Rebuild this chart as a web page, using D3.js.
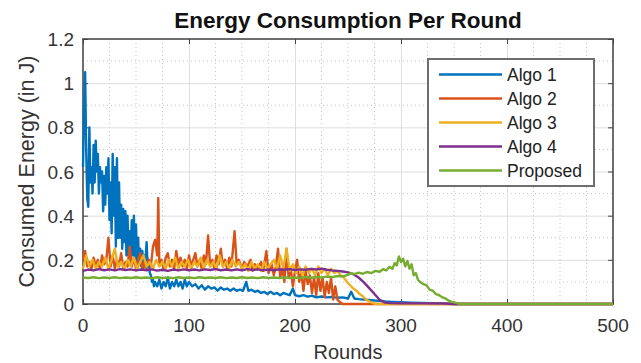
<!DOCTYPE html>
<html>
<head>
<meta charset="utf-8">
<script src="https://cdn.jsdelivr.net/npm/d3@7"></script>
<style>
  body { margin: 0; background: #fff; }
  text { font-family: "Liberation Sans", Arial, sans-serif; }
</style>
</head>
<body>
<div class="chart"></div>
<script>
// values: [round, energy in J]
var algo1 = [[0,0.62],[1,0.9],[2,1.05],[3,0.7],[4,0.48],[5,0.44],[6,0.8],[7,0.55],[8,0.62],[9,0.5],[10,0.72],[11,0.55],[12,0.74],[13,0.6],[14,0.68],[15,0.5],[16,0.62],[17,0.55],[18,0.6],[19,0.42],[20,0.58],[21,0.45],[22,0.62],[23,0.5],[24,0.66],[25,0.38],[26,0.55],[27,0.32],[28,0.68],[29,0.4],[30,0.62],[31,0.26],[32,0.66],[33,0.3],[34,0.55],[35,0.3],[36,0.45],[37,0.25],[38,0.43],[39,0.28],[40,0.42],[41,0.22],[42,0.4],[43,0.22],[44,0.33],[45,0.2],[46,0.38],[47,0.22],[48,0.4],[49,0.2],[50,0.36],[51,0.19],[52,0.3],[53,0.18],[54,0.25],[55,0.17],[56,0.24],[57,0.16],[58,0.22],[59,0.2],[60,0.28],[61,0.17],[62,0.2],[63,0.14],[64,0.13],[65,0.1],[66,0.11],[67,0.08],[68,0.1],[70,0.08],[72,0.11],[74,0.07],[76,0.1],[78,0.08],[80,0.12],[82,0.07],[84,0.1],[86,0.08],[88,0.11],[90,0.08],[92,0.1],[94,0.07],[96,0.11],[98,0.08],[100,0.1],[103,0.08],[106,0.09],[109,0.07],[112,0.085],[115,0.065],[118,0.08],[121,0.07],[124,0.075],[127,0.06],[130,0.075],[133,0.065],[136,0.07],[139,0.06],[142,0.07],[145,0.06],[148,0.065],[151,0.06],[154,0.1],[156,0.06],[159,0.065],[162,0.055],[165,0.06],[168,0.05],[171,0.055],[174,0.045],[177,0.055],[180,0.045],[183,0.05],[186,0.04],[189,0.05],[192,0.045],[195,0.04],[198,0.07],[200,0.04],[204,0.035],[208,0.04],[212,0.033],[216,0.038],[220,0.03],[225,0.034],[230,0.03],[235,0.032],[240,0.028],[245,0.03],[250,0.025],[253,0.055],[256,0.025],[260,0.022],[265,0.02],[270,0.018],[275,0.016],[280,0.015],[285,0.012],[290,0.01],[300,0.008],[310,0.006],[320,0.005],[330,0.004],[340,0.002],[350,0],[500,0]];

var algo2 = [[0,0.2],[2,0.24],[4,0.17],[6,0.19],[8,0.16],[10,0.21],[12,0.17],[14,0.2],[16,0.16],[18,0.22],[20,0.18],[22,0.2],[24,0.3],[26,0.17],[28,0.22],[30,0.16],[32,0.2],[34,0.17],[36,0.23],[38,0.16],[40,0.19],[42,0.17],[44,0.26],[46,0.17],[48,0.21],[50,0.16],[52,0.2],[54,0.23],[56,0.16],[58,0.19],[60,0.16],[62,0.2],[64,0.17],[66,0.26],[68,0.29],[70,0.22],[71,0.48],[72,0.18],[74,0.2],[76,0.16],[78,0.21],[80,0.23],[82,0.17],[84,0.2],[86,0.16],[88,0.24],[90,0.18],[92,0.21],[94,0.17],[96,0.2],[98,0.16],[100,0.22],[102,0.17],[104,0.2],[106,0.23],[108,0.17],[110,0.2],[112,0.16],[114,0.22],[116,0.18],[118,0.31],[120,0.17],[122,0.2],[124,0.16],[126,0.22],[128,0.18],[130,0.25],[132,0.17],[134,0.2],[136,0.16],[138,0.21],[140,0.17],[143,0.33],[145,0.18],[147,0.2],[150,0.16],[152,0.19],[155,0.17],[158,0.2],[160,0.15],[162,0.18],[165,0.16],[168,0.19],[170,0.15],[173,0.24],[175,0.14],[178,0.18],[180,0.13],[182,0.17],[184,0.25],[186,0.12],[188,0.16],[190,0.1],[192,0.25],[194,0.12],[196,0.16],[198,0.08],[200,0.15],[202,0.2],[204,0.1],[206,0.14],[208,0.06],[210,0.15],[212,0.09],[214,0.13],[216,0.05],[218,0.12],[220,0.04],[222,0.14],[224,0.06],[226,0.12],[228,0.03],[230,0.1],[232,0.05],[234,0.12],[236,0.02],[238,0.08],[240,0.02],[242,0.01],[245,0],[500,0]];

var algo3 = [[0,0.16],[3,0.22],[6,0.17],[9,0.2],[12,0.16],[15,0.19],[18,0.17],[21,0.21],[24,0.16],[27,0.2],[30,0.25],[33,0.17],[36,0.19],[39,0.16],[42,0.2],[45,0.17],[48,0.21],[51,0.16],[54,0.19],[57,0.22],[60,0.17],[63,0.19],[66,0.16],[69,0.2],[72,0.17],[75,0.19],[78,0.16],[81,0.2],[84,0.17],[87,0.21],[90,0.16],[93,0.19],[96,0.17],[99,0.2],[102,0.16],[105,0.19],[108,0.17],[111,0.21],[114,0.16],[117,0.2],[120,0.17],[123,0.19],[126,0.16],[129,0.22],[132,0.17],[135,0.19],[138,0.16],[141,0.2],[144,0.17],[147,0.19],[150,0.16],[153,0.18],[156,0.15],[159,0.19],[162,0.16],[165,0.18],[168,0.15],[171,0.19],[174,0.16],[177,0.18],[180,0.2],[183,0.16],[186,0.22],[189,0.16],[192,0.25],[195,0.15],[198,0.18],[201,0.14],[204,0.17],[207,0.13],[210,0.17],[213,0.14],[216,0.16],[219,0.13],[222,0.17],[225,0.14],[228,0.16],[231,0.13],[234,0.16],[237,0.14],[240,0.15],[243,0.13],[246,0.12],[249,0.1],[252,0.085],[255,0.07],[258,0.06],[261,0.045],[264,0.035],[267,0.02],[270,0.012],[273,0.005],[276,0],[500,0]];

var algo4 = [[0,0.15],[5,0.156],[10,0.152],[15,0.158],[20,0.153],[25,0.157],[30,0.152],[35,0.158],[40,0.154],[45,0.157],[50,0.152],[55,0.156],[60,0.153],[65,0.157],[70,0.151],[75,0.155],[80,0.15],[85,0.156],[90,0.152],[95,0.157],[100,0.153],[105,0.156],[110,0.152],[115,0.157],[120,0.154],[125,0.158],[130,0.153],[135,0.156],[140,0.152],[145,0.157],[150,0.153],[155,0.158],[160,0.154],[165,0.157],[170,0.152],[175,0.156],[180,0.153],[185,0.157],[190,0.155],[195,0.158],[200,0.154],[205,0.157],[210,0.155],[215,0.159],[220,0.156],[225,0.16],[230,0.155],[235,0.152],[240,0.15],[245,0.147],[250,0.143],[255,0.135],[260,0.12],[265,0.098],[270,0.072],[275,0.045],[280,0.018],[285,0.006],[290,0.004],[300,0.003],[320,0.003],[340,0.002],[350,0],[500,0]];

var proposed = [[0,0.12],[5,0.118],[10,0.121],[15,0.117],[20,0.12],[25,0.118],[30,0.121],[35,0.117],[40,0.12],[45,0.118],[50,0.121],[55,0.118],[60,0.12],[65,0.117],[70,0.121],[75,0.118],[80,0.12],[85,0.117],[90,0.121],[95,0.118],[100,0.12],[105,0.117],[110,0.121],[115,0.118],[120,0.12],[125,0.118],[130,0.121],[135,0.117],[140,0.12],[145,0.118],[150,0.121],[155,0.118],[160,0.12],[165,0.117],[170,0.121],[175,0.118],[180,0.12],[185,0.118],[190,0.121],[195,0.118],[200,0.12],[205,0.118],[210,0.122],[215,0.119],[220,0.122],[225,0.12],[230,0.124],[235,0.122],[240,0.127],[245,0.125],[250,0.132],[253,0.14],[256,0.135],[260,0.142],[264,0.137],[268,0.145],[272,0.14],[276,0.15],[280,0.146],[283,0.158],[286,0.152],[289,0.168],[292,0.16],[294,0.185],[296,0.175],[298,0.215],[300,0.19],[302,0.205],[304,0.17],[306,0.195],[308,0.16],[310,0.18],[312,0.13],[314,0.14],[316,0.11],[318,0.1],[321,0.09],[324,0.085],[327,0.065],[330,0.06],[333,0.045],[336,0.04],[339,0.03],[342,0.025],[345,0.015],[348,0.01],[352,0.005],[356,0],[500,0]];

var seriesNames = ["Algo 1", "Algo 2", "Algo 3", "Algo 4", "Proposed"];
var seriesData = [algo1, algo2, algo3, algo4, proposed];
var seriesColors = ["#0072BD", "#D95319", "#EDB120", "#7E2F8E", "#77AC30"];

var xTicks = [0, 100, 200, 300, 400, 500];
var yTicks = [0, 0.2, 0.4, 0.6, 0.8, 1, 1.2];

var margin = {top: 39, right: 28, bottom: 59, left: 83},
width = 641 - margin.left - margin.right,
height = 363 - margin.top - margin.bottom;

var xScale = d3.scaleLinear()
    .domain([0, 500])
    .range([0, width]);

var yScale = d3.scaleLinear()
    .domain([0, 1.2])
    .range([height, 0]);

var svg = d3.select(".chart").append("svg")
    .attr("width", 641)
    .attr("height", 363)
    .style("display", "block");

var g = svg.append("g")
    .attr("transform", "translate(" + margin.left + "," + margin.top + ")");

g.append("rect")
    .attr("width", width)
    .attr("height", height)
    .attr("fill", "#fff");

// minor grid (dotted)
g.append("g").selectAll("line")
    .data(d3.range(0, 501, 25).filter(function(d) { return d % 100 != 0; }))
    .enter().append("line")
    .attr("x1", d => xScale(d)).attr("x2", d => xScale(d))
    .attr("y1", 0).attr("y2", height)
    .attr("stroke", "#c4c4c4")
    .attr("stroke-dasharray", "1,3");

g.append("g").selectAll("line")
    .data([0.1, 0.3, 0.5, 0.7, 0.9, 1.1])
    .enter().append("line")
    .attr("y1", d => yScale(d)).attr("y2", d => yScale(d))
    .attr("x1", 0).attr("x2", width)
    .attr("stroke", "#c4c4c4")
    .attr("stroke-dasharray", "1,3");

// major grid
var xAxisGrid = d3.axisBottom(xScale).tickValues(xTicks).tickSize(-height).tickFormat("");
var yAxisGrid = d3.axisLeft(yScale).tickValues(yTicks).tickSize(-width).tickFormat("");

g.append("g")
    .attr("transform", "translate(0," + height + ")")
    .call(xAxisGrid)
    .call(s => s.select(".domain").remove())
    .selectAll("line").attr("stroke", "#dedede");

g.append("g")
    .call(yAxisGrid)
    .call(s => s.select(".domain").remove())
    .selectAll("line").attr("stroke", "#dedede");

// frame
g.append("rect")
    .attr("width", width)
    .attr("height", height)
    .attr("fill", "none")
    .attr("stroke", "#6e6e6e")
    .attr("stroke-width", 2);

// inward ticks on all four sides
var tickLen = 5;
[[d3.axisBottom, height, -tickLen], [d3.axisTop, 0, -tickLen]].forEach(function(a) {
  g.append("g")
    .attr("transform", "translate(0," + a[1] + ")")
    .call(a[0](xScale).tickValues(xTicks).tickSize(a[2]).tickFormat(""))
    .call(s => s.select(".domain").remove())
    .selectAll("line").attr("stroke", "#444");
});
[[d3.axisLeft, 0, -tickLen], [d3.axisRight, width, -tickLen]].forEach(function(a) {
  g.append("g")
    .attr("transform", "translate(" + a[1] + ",0)")
    .call(a[0](yScale).tickValues(yTicks).tickSize(a[2]).tickFormat(""))
    .call(s => s.select(".domain").remove())
    .selectAll("line").attr("stroke", "#444");
});

// tick labels
g.append("g").selectAll("text")
    .data(xTicks)
    .enter().append("text")
    .attr("x", d => xScale(d))
    .attr("y", height + 28)
    .attr("text-anchor", "middle")
    .attr("font-size", "19px")
    .attr("fill", "#333")
    .text(d => d);

g.append("g").selectAll("text")
    .data(yTicks)
    .enter().append("text")
    .attr("x", -9)
    .attr("y", d => yScale(d) + 7)
    .attr("text-anchor", "end")
    .attr("font-size", "19px")
    .attr("fill", "#333")
    .text(d => d);

// lines
var line = d3.line()
    .x(d => xScale(d[0]))
    .y(d => yScale(d[1]));

g.selectAll(".series")
    .data(seriesData)
    .enter().append("path")
    .attr("class", "series")
    .attr("d", line)
    .attr("fill", "none")
    .attr("stroke", (d, i) => seriesColors[i])
    .attr("stroke-width", 2.4)
    .attr("stroke-linejoin", "round");

// titles
svg.append("text")
    .attr("x", margin.left + width / 2)
    .attr("y", 28)
    .attr("text-anchor", "middle")
    .attr("font-size", "22.5px")
    .attr("font-weight", "bold")
    .attr("fill", "#111")
    .text("Energy Consumption Per Round");

svg.append("text")
    .attr("x", margin.left + width / 2)
    .attr("y", 359)
    .attr("text-anchor", "middle")
    .attr("font-size", "20px")
    .attr("fill", "#333")
    .text("Rounds");

svg.append("text")
    .attr("transform", "translate(34," + (margin.top + height / 2) + ") rotate(-90)")
    .attr("text-anchor", "middle")
    .attr("font-size", "21.5px")
    .attr("fill", "#333")
    .text("Consumed Energy (in J)");

// legend
var legend = svg.append("g");
legend.append("rect")
    .attr("x", 428).attr("y", 59)
    .attr("width", 166).attr("height", 127)
    .attr("fill", "#fff")
    .attr("stroke", "#6e6e6e")
    .attr("stroke-width", 2);

var items = legend.selectAll(".item")
    .data(seriesNames)
    .enter().append("g")
    .attr("class", "item")
    .attr("transform", (d, i) => "translate(0," + (74.5 + i * 24) + ")");

items.append("line")
    .attr("x1", 439).attr("x2", 502)
    .attr("stroke", (d, i) => seriesColors[i])
    .attr("stroke-width", 2.5);

items.append("text")
    .attr("x", 507)
    .attr("y", 6)
    .attr("font-size", "17.5px")
    .attr("fill", "#222")
    .text(d => d);
</script>
</body>
</html>
